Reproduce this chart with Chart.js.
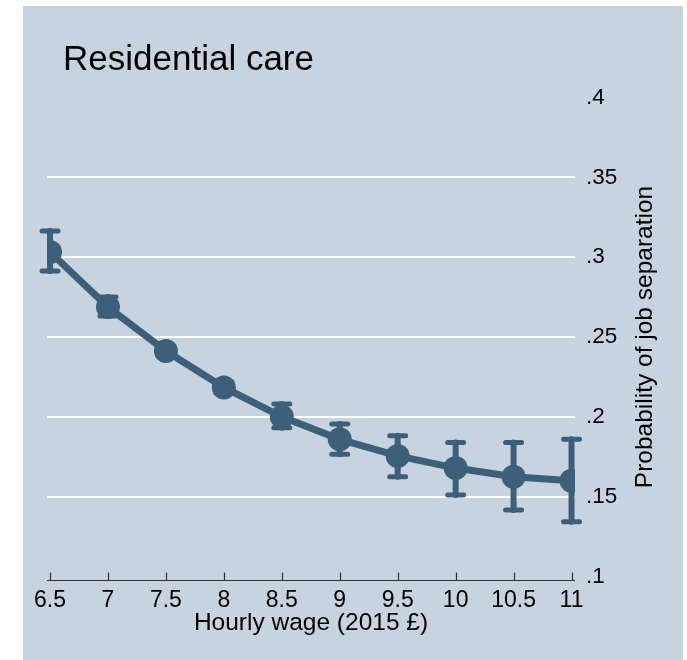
<!DOCTYPE html>
<html>
<head>
<meta charset="utf-8">
<script src="https://cdn.jsdelivr.net/npm/chart.js@4.4.1/dist/chart.umd.min.js"></script>
<style>
  body { margin: 0; background: #fff; }
  #panel { position: absolute; left: 23px; top: 6px; width: 660px; height: 654px; background: #c7d3df; }
</style>
</head>
<body>
<div id="panel"><canvas id="myChart" width="660" height="654"></canvas></div>
<script>
// wage grid and predicted probability of job separation
var wages = [6.5, 7, 7.5, 8, 8.5, 9, 9.5, 10, 10.5, 11];
var prob  = [0.3032, 0.2688, 0.2412, 0.2184, 0.2000, 0.1859, 0.1755, 0.1679, 0.1625, 0.1600];
var ciLow  = [0.2913, 0.2631, 0.2382, 0.2150, 0.1932, 0.1765, 0.1625, 0.1510, 0.1416, 0.1343];
var ciHigh = [0.3164, 0.2750, 0.2442, 0.2220, 0.2080, 0.1955, 0.1882, 0.1840, 0.1840, 0.1859];
var xTicks = [6.5, 7, 7.5, 8, 8.5, 9, 9.5, 10, 10.5, 11];
var yTicks = [0.1, 0.15, 0.2, 0.25, 0.3, 0.35, 0.4];

var navy = '#3e5f7a';
var fontFam = '"Liberation Sans", Arial, sans-serif';

var points = wages.map(function (w, i) { return { x: w, y: prob[i] }; });

// error bars, axis tick marks and extra labels
var extras = {
    id: 'extras',
    beforeDatasetsDraw: function (chart) {
        var c = chart.ctx, xs = chart.scales.x, ys = chart.scales.y;
        c.save();
        c.strokeStyle = navy;
        c.lineCap = 'round';
        for (var i = 0; i < wages.length; i++) {
            var px = xs.getPixelForValue(wages[i]);
            var lo = ys.getPixelForValue(ciLow[i]);
            var hi = ys.getPixelForValue(ciHigh[i]);
            c.lineWidth = 6;
            c.beginPath();
            c.moveTo(px, lo); c.lineTo(px, hi);
            c.stroke();
            c.lineWidth = 5;
            c.beginPath();
            c.moveTo(px - 8, lo); c.lineTo(px + 8, lo);
            c.moveTo(px - 8, hi); c.lineTo(px + 8, hi);
            c.stroke();
        }
        c.restore();
    },
    afterDraw: function (chart) {
        var c = chart.ctx, xs = chart.scales.x, area = chart.chartArea;
        var axisY = Math.round(area.bottom + 3) + 0.5;
        c.save();
        // x axis line and upward ticks
        c.strokeStyle = '#333';
        c.lineWidth = 1.2;
        c.beginPath();
        c.moveTo(area.left, axisY); c.lineTo(area.right, axisY);
        xTicks.forEach(function (t) {
            var px = Math.round(xs.getPixelForValue(t)) + 0.5;
            c.moveTo(px, axisY); c.lineTo(px, axisY - 8);
        });
        c.stroke();
        // chart title
        c.fillStyle = '#000';
        c.font = '35px ' + fontFam;
        c.textBaseline = 'alphabetic';
        c.textAlign = 'left';
        c.fillText('Residential care', 40, 63.5);
        // y axis title, reading upward
        c.font = '24.5px ' + fontFam;
        c.translate(622, (area.top + area.bottom) / 2);
        c.rotate(-Math.PI / 2);
        c.textAlign = 'center';
        c.textBaseline = 'middle';
        c.fillText('Probability of job separation', 0, 0);
        c.restore();
    }
};

var ctx = document.getElementById('myChart').getContext('2d');
var myChart = new Chart(ctx, {
    type: 'line',
    data: {
        datasets: [{
            data: points,
            borderColor: navy,
            backgroundColor: navy,
            borderWidth: 7,
            pointRadius: 12,
            pointBackgroundColor: navy,
            pointBorderWidth: 0,
            tension: 0
        }]
    },
    options: {
        responsive: false,
        animation: false,
        layout: { padding: { left: 24, top: 91.5, right: 0, bottom: 0 } },
        plugins: { legend: { display: false }, tooltip: { enabled: false } },
        scales: {
            x: {
                type: 'linear',
                min: 6.474,
                max: 11.03,
                afterBuildTicks: function (s) { s.ticks = xTicks.map(function (v) { return { value: v }; }); },
                afterFit: function (s) { s.height = 83.5; },
                grid: { display: false, drawTicks: false },
                border: { display: false },
                ticks: {
                    color: '#000',
                    padding: 10,
                    maxRotation: 0,
                    autoSkip: false,
                    font: { family: fontFam, size: 23 },
                    callback: function (v) { return String(v); }
                },
                title: {
                    display: true,
                    text: 'Hourly wage (2015 £)',
                    color: '#000',
                    font: { family: fontFam, size: 24.5 },
                    padding: { top: 0, bottom: 22 }
                }
            },
            y: {
                position: 'right',
                min: 0.1,
                max: 0.4,
                afterBuildTicks: function (s) { s.ticks = yTicks.map(function (v) { return { value: v }; }); },
                afterFit: function (s) { s.width = 108; },
                border: { display: false },
                grid: {
                    drawTicks: false,
                    lineWidth: 2,
                    color: function (c) {
                        var v = c.tick ? c.tick.value : 0;
                        return (v > 0.12 && v < 0.38) ? '#ffffff' : 'rgba(0,0,0,0)';
                    }
                },
                ticks: {
                    color: '#000',
                    padding: 11,
                    font: { family: fontFam, size: 22.5 },
                    callback: function (v) { return String(Math.round(v * 100) / 100).replace(/^0/, ''); }
                }
            }
        }
    },
    plugins: [extras]
});
</script>
</body>
</html>
